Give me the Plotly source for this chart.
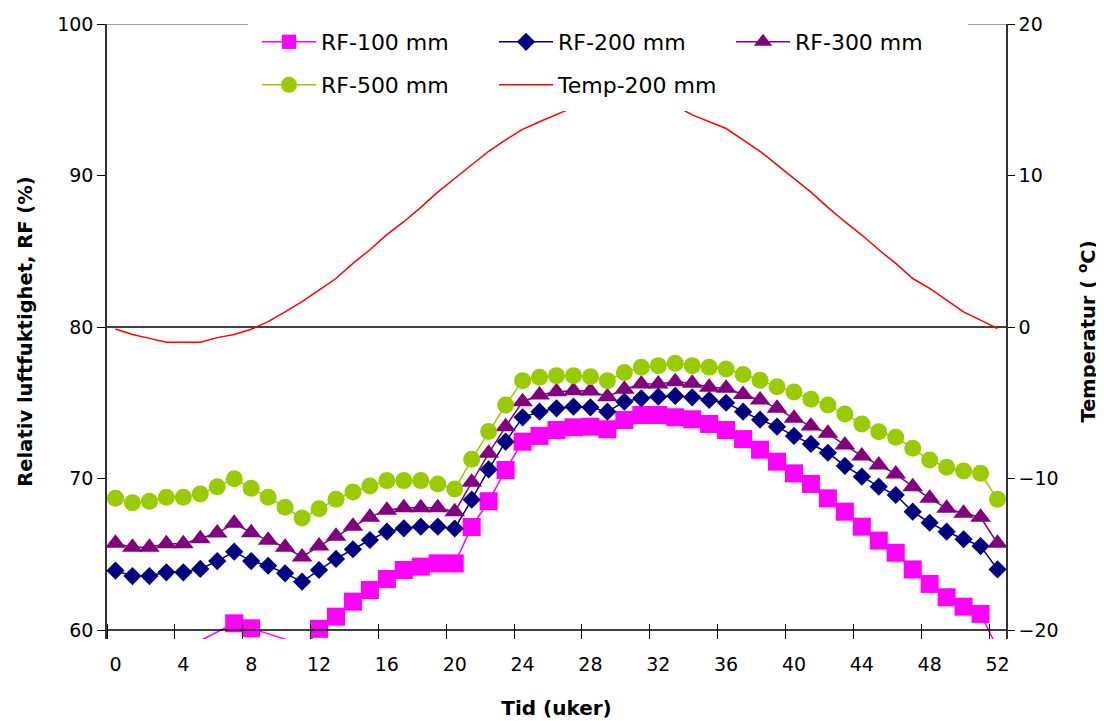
import plotly.graph_objects as go

weeks = list(range(53))
xtick_labels = list(range(0, 53, 4))

rf100 = [57.0, 57.3, 57.6, 58.0, 58.5, 59.3, 59.85, 60.44, 60.11, 59.75,
         59.4, 58.6, 60.08, 60.88, 61.87, 62.64, 63.37, 63.96, 64.18, 64.4,
         64.4, 66.8, 68.5, 70.56, 72.43, 72.81, 73.2, 73.38, 73.42, 73.25,
         73.86, 74.19, 74.19, 74.04, 73.91, 73.6, 73.2, 72.6, 71.9, 71.11,
         70.34, 69.64, 68.69, 67.81, 66.82, 65.9, 65.1, 64.0, 63.04, 62.16,
         61.54, 61.06, 58.8]
rf200 = [63.92, 63.56, 63.56, 63.81, 63.81, 64.03, 64.55, 65.17, 64.55, 64.24,
         63.74, 63.19, 63.96, 64.69, 65.33, 65.94, 66.49, 66.71, 66.82, 66.82,
         66.7, 68.6, 70.6, 72.43, 74.04, 74.41, 74.63, 74.74, 74.7, 74.41,
         75.07, 75.29, 75.4, 75.45, 75.36, 75.18, 75.0, 74.41, 73.88, 73.42,
         72.81, 72.28, 71.7, 70.83, 70.12, 69.46, 68.91, 67.81, 67.08, 66.49,
         65.99, 65.54, 64.0]
rf300 = [65.72, 65.46, 65.46, 65.7, 65.7, 66.03, 66.4, 67.04, 66.42, 65.92,
         65.46, 64.82, 65.54, 66.18, 66.84, 67.45, 67.9, 68.07, 68.07, 68.07,
         67.8, 69.75, 71.66, 73.42, 75.07, 75.51, 75.73, 75.8, 75.78, 75.4,
         75.89, 76.24, 76.24, 76.39, 76.28, 76.02, 75.95, 75.55, 75.18, 74.63,
         73.97, 73.47, 72.98, 72.21, 71.49, 70.89, 70.3, 69.46, 68.69, 68.03,
         67.7, 67.44, 65.72]
rf500 = [68.69, 68.4, 68.5, 68.76, 68.76, 68.98, 69.46, 69.99, 69.35, 68.76,
         68.1, 67.39, 68.0, 68.63, 69.11, 69.5, 69.86, 69.86, 69.86, 69.64,
         69.3, 71.27, 73.1, 74.85, 76.46, 76.68, 76.79, 76.79, 76.72, 76.46,
         77.0, 77.34, 77.45, 77.6, 77.45, 77.34, 77.23, 76.87, 76.48, 76.06,
         75.71, 75.23, 74.85, 74.26, 73.6, 73.09, 72.72, 71.99, 71.22, 70.74,
         70.49, 70.34, 68.63]
temp200 = [-0.13, -0.5, -0.75, -1.0, -1.0, -1.0, -0.7, -0.5, -0.15, 0.35,
           1.0, 1.67, 2.44, 3.2, 4.2, 5.1, 6.1, 6.95, 7.9, 8.9,
           9.8, 10.7, 11.6, 12.35, 13.05, 13.55, 14.05, 14.5, 14.85, 15.1,
           15.2, 15.15, 14.95, 14.6, 14.0, 13.55, 13.1, 12.35, 11.6, 10.7,
           9.8, 8.9, 7.9, 6.95, 6.07, 5.1, 4.2, 3.2, 2.55, 1.8,
           1.0, 0.45, -0.1]

RF_MIN, RF_MAX = 60, 100
T_MIN, T_MAX = -20, 20
FONT = "DejaVu Sans"

def msize(vals, s):
    # Excel hides markers of points below the axis minimum
    return [s if v >= RF_MIN else 0 for v in vals]

def mk(symbol, vals, s, color):
    return dict(symbol=symbol, size=msize(vals, s), color=color, opacity=1,
                line=dict(width=0, color=color))

fig = go.Figure()
fig.add_trace(go.Scatter(x=weeks, y=rf100, name="RF-100 mm", mode="lines+markers",
                         line=dict(color="#FF00FF", width=1.5),
                         marker=mk("square", rf100, 18, "#FF00FF"), legend="legend"))
fig.add_trace(go.Scatter(x=weeks, y=rf200, name="RF-200 mm", mode="lines+markers",
                         line=dict(color="#000080", width=1.5),
                         marker=mk("diamond", rf200, 14, "#000080"), legend="legend"))
fig.add_trace(go.Scatter(x=weeks, y=rf300, name="RF-300 mm", mode="lines+markers",
                         line=dict(color="#800080", width=1.5),
                         marker=mk("triangle-up", rf300, 18, "#800080"), legend="legend"))
fig.add_trace(go.Scatter(x=weeks, y=rf500, name="RF-500 mm", mode="lines+markers",
                         line=dict(color="#99CC00", width=1.5),
                         marker=mk("circle", rf500, 17, "#99CC00"), legend="legend2"))
fig.add_trace(go.Scatter(x=weeks, y=temp200, name="Temp-200 mm", mode="lines",
                         line=dict(color="#FF0000", width=1.5),
                         yaxis="y2", legend="legend2"))

# page body has an 8px margin: work in reference pixels and shift by OFF
OFF = 8
W, H = 1104 - OFF, 721 - OFF
L, T = 107 - OFF, 24 - OFF
R = W - (1006 - OFF)
B = H - (639 - OFF)
pw, ph = W - L - R, H - T - B
ext = (639 - 630) / 606 * (RF_MAX - RF_MIN)  # small space below axis minimum

def px_x(p):
    return (p - OFF - L) / pw

def px_y(p):
    return (H - B - (p - OFF)) / ph

fig.update_layout(
    width=W, height=H,
    margin=dict(l=L, r=R, t=T, b=B, autoexpand=False),
    paper_bgcolor="white", plot_bgcolor="white",
    font=dict(family=FONT, size=19, color="black"),
    showlegend=True,
    xaxis=dict(range=[-0.5, 52.5], tickmode="array", tickvals=xtick_labels,
               ticktext=[str(v) for v in xtick_labels], ticks="",
               showline=False, showgrid=False, zeroline=False,
               ticklabelstandoff=12,
               minor=dict(tickmode="array", tickvals=[v - 0.5 for v in xtick_labels],
                          ticks="inside", ticklen=15, tickwidth=1.3, tickcolor="black",
                          showgrid=False),
               title=dict(text="<b>Tid (uker)</b>", font=dict(size=20), standoff=26),
               automargin=False),
    yaxis=dict(range=[RF_MIN - ext, RF_MAX], tickmode="array", tickvals=list(range(60, 101, 10)),
               ticks="outside", ticklen=8, tickwidth=1.3, tickcolor="black",
               showline=True, linecolor="#333333", linewidth=1.5,
               showgrid=False, zeroline=False,
               title=dict(text="<b>Relativ luftfuktighet, RF (%)</b>", font=dict(size=19.5), standoff=19),
               automargin=False),
    yaxis2=dict(range=[T_MIN - ext, T_MAX], overlaying="y", side="right",
                tickmode="array", tickvals=list(range(-20, 21, 10)),
                ticks="outside", ticklen=7, tickwidth=1.3, tickcolor="black",
                showline=True, linecolor="#333333", linewidth=1.5,
                showgrid=False, zeroline=False,
                title=dict(text="<b>Temperatur ( <sup>o</sup>C)</b>", font=dict(size=19.5), standoff=24),
                automargin=False),
    legend=dict(orientation="h", x=px_x(257), xanchor="left", y=px_y(42), yanchor="middle",
                bgcolor="white", borderwidth=0, font=dict(size=22),
                itemwidth=54, entrywidth=168, entrywidthmode="pixels"),
    legend2=dict(orientation="h", x=px_x(257), xanchor="left", y=px_y(85), yanchor="middle",
                 bgcolor="white", borderwidth=0, font=dict(size=22),
                 itemwidth=54, entrywidth=168, entrywidthmode="pixels"),
    shapes=[
        # top border of plot area (gray)
        dict(type="line", xref="x", yref="y", x0=-0.5, x1=52.5, y0=RF_MAX, y1=RF_MAX,
             line=dict(color="#808080", width=1.5), layer="below"),
        # category axis line at RF minimum
        dict(type="line", xref="x", yref="y", x0=-0.5, x1=52.5, y0=RF_MIN, y1=RF_MIN,
             line=dict(color="black", width=1.5), layer="above"),
        # zero line of temperature axis
        dict(type="line", xref="x", yref="y2", x0=-0.5, x1=52.5, y0=0, y1=0,
             line=dict(color="black", width=1.5), layer="below"),
        # white legend background covering plot content
        dict(type="rect", xref="paper", yref="paper", x0=px_x(248), x1=px_x(961),
             y0=px_y(111), y1=px_y(8), fillcolor="white", line=dict(width=0), layer="above"),
    ],
)

fig.write_html("out.html")
